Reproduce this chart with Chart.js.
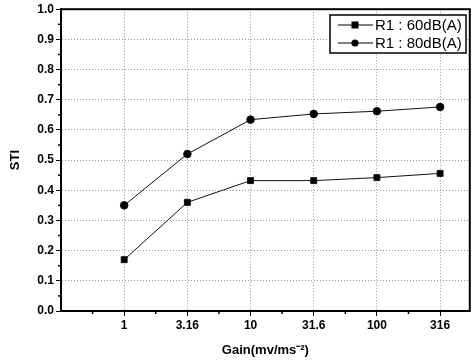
<!DOCTYPE html>
<html>
<head>
<meta charset="utf-8">
<script src="https://cdn.jsdelivr.net/npm/chart.js@4/dist/chart.umd.min.js"></script>
<style>
  body { margin: 0; background: #fff; }
  #wrap { width: 475px; height: 363px; }
</style>
</head>
<body>
<div id="wrap"><canvas id="chart"></canvas></div>
<script>
// datos
const gainLabels = ["1", "3.16", "10", "31.6", "100", "316"];
const sti60 = [0.17, 0.36, 0.432, 0.432, 0.442, 0.456];
const sti80 = [0.35, 0.52, 0.634, 0.653, 0.662, 0.676];
const seriesNames = ["R1 : 60dB(A)", "R1 : 80dB(A)"];
const yTicks = [0.0, 0.1, 0.2, 0.3, 0.4, 0.5, 0.6, 0.7, 0.8, 0.9, 1.0];

const FONT = "'Liberation Sans', Arial, sans-serif";

function toPoints(vals) {
  return vals.map((v, i) => ({ x: i, y: v }));
}

// marco, ticks menores y leyenda
const framePlugin = {
  id: "frame",
  afterDraw(chart) {
    const ctx = chart.ctx;
    const a = chart.chartArea;
    const xs = chart.scales.x;
    const ys = chart.scales.y;
    ctx.save();
    ctx.strokeStyle = "#000";
    ctx.lineWidth = 2;
    ctx.setLineDash([]);
    ctx.strokeRect(a.left, a.top, a.right - a.left, a.bottom - a.top);

    // ticks menores del eje y
    ctx.lineWidth = 1.5;
    for (let i = 0; i < yTicks.length - 1; i++) {
      const y = ys.getPixelForValue(yTicks[i] + 0.05);
      ctx.beginPath();
      ctx.moveTo(a.left - 3, y);
      ctx.lineTo(a.left, y);
      ctx.stroke();
    }
    // ticks menores del eje x
    for (let i = -1; i < gainLabels.length; i++) {
      const x = xs.getPixelForValue(i + 0.5);
      if (x > a.right) continue;
      ctx.beginPath();
      ctx.moveTo(x, a.bottom);
      ctx.lineTo(x, a.bottom + 3);
      ctx.stroke();
    }

    // leyenda
    const lx = 330, ly = 15, lw = 136, lh = 38;
    ctx.lineWidth = 1.5;
    ctx.fillStyle = "#fff";
    ctx.fillRect(lx, ly, lw, lh);
    ctx.strokeRect(lx, ly, lw, lh);
    ctx.font = "15px " + FONT;
    ctx.textBaseline = "middle";
    ctx.textAlign = "left";
    const rows = [25, 43];
    chart.data.datasets.forEach((ds, k) => {
      const y = rows[k];
      ctx.lineWidth = 1;
      ctx.beginPath();
      ctx.moveTo(338, y);
      ctx.lineTo(373, y);
      ctx.stroke();
      ctx.fillStyle = "#000";
      if (ds.pointStyle === "rect") {
        ctx.fillRect(355 - 3.5, y - 3.5, 7, 7);
      } else {
        ctx.beginPath();
        ctx.arc(355, y, 3.6, 0, Math.PI * 2);
        ctx.fill();
      }
      ctx.fillText(ds.label, 375, y + 1);
    });
    ctx.restore();
  },
};

new Chart(document.getElementById("chart"), {
  type: "line",
  data: {
    datasets: [
      {
        label: seriesNames[0],
        data: toPoints(sti60),
        borderColor: "#111",
        backgroundColor: "#000",
        borderWidth: 1,
        pointStyle: "rect",
        pointRadius: 4.2,
      },
      {
        label: seriesNames[1],
        data: toPoints(sti80),
        borderColor: "#111",
        backgroundColor: "#000",
        borderWidth: 1,
        pointStyle: "circle",
        pointRadius: 3.8,
      },
    ],
  },
  options: {
    responsive: true,
    maintainAspectRatio: false,
    animation: false,
    layout: { padding: { top: 9, right: 2, left: 0, bottom: 0 } },
    plugins: { legend: { display: false }, tooltip: { enabled: false } },
    scales: {
      x: {
        type: "linear",
        min: -1,
        max: 5.47,
        afterBuildTicks(scale) {
          scale.ticks = gainLabels.map((_, i) => ({ value: i }));
        },
        afterFit(scale) {
          scale.height = 52;
        },
        ticks: {
          color: "#000",
          font: { family: FONT, size: 12, weight: "bold" },
          padding: 2,
          maxRotation: 0,
          callback: (v) => gainLabels[v],
        },
        grid: {
          color: "#999",
          tickColor: "#000",
          tickLength: 5,
          lineWidth: 1,
        },
        border: { color: "#000", width: 2, dash: [1, 2] },
        title: {
          display: true,
          text: "Gain(mv/ms\u207B\u00B2)",
          color: "#000",
          font: { family: FONT, size: 13, weight: "bold" },
          padding: { top: 6, bottom: 5 },
        },
      },
      y: {
        min: 0,
        max: 1,
        afterBuildTicks(scale) {
          scale.ticks = yTicks.map((v) => ({ value: v }));
        },
        afterFit(scale) {
          scale.width = 61;
        },
        ticks: {
          color: "#000",
          font: { family: FONT, size: 12, weight: "bold" },
          padding: 2,
          callback: (v) => v.toFixed(1),
        },
        grid: {
          color: "#999",
          tickColor: "#000",
          tickLength: 5,
          lineWidth: 1,
        },
        border: { color: "#000", width: 2, dash: [1, 2] },
        title: {
          display: true,
          text: "STI",
          color: "#000",
          font: { family: FONT, size: 13, weight: "bold" },
          padding: { top: 8, bottom: 0 },
        },
      },
    },
  },
  plugins: [framePlugin],
});
</script>
</body>
</html>
